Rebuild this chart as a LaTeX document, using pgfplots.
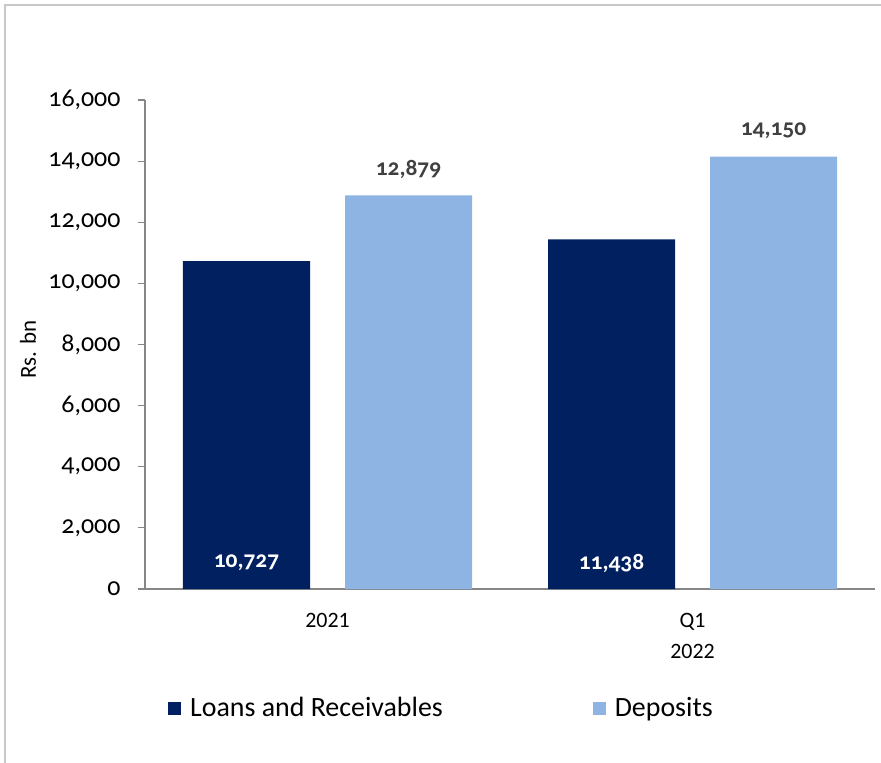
\documentclass[border=0pt]{standalone}
\usepackage{fontspec}
\setmainfont{Carlito}
\newfontfamily\oldnum{Carlito}[Numbers=OldStyle]
\usepackage{pgfplots}
\pgfplotsset{compat=1.18}
\definecolor{loans}{HTML}{002060}
\definecolor{deps}{HTML}{8EB4E3}
\definecolor{axgray}{HTML}{868686}
\definecolor{framegray}{HTML}{C8C8C8}
\definecolor{lblgray}{HTML}{404040}
\begin{document}
\begin{tikzpicture}[x=1bp,y=1bp]
\begin{axis}[
  at={(0,0)}, anchor=south west,
  scale only axis,
  width=730bp, height=489bp,
  xmin=-0.5, xmax=1.5,
  ymin=0, ymax=16000,
  ytick={0,2000,...,16000},
  scaled y ticks=false,
  xtick={0,1},
  xticklabels={2021, Q1\\2022},
  xticklabel style={align=center, font=\fontsize{22}{31}\selectfont, anchor=north, yshift=-14bp},
  x tick style={draw=none},
  axis x line*=bottom,
  axis y line*=left,
  axis line style={axgray, line width=1.2pt},
  y tick style={axgray, line width=1.2pt},
  tick align=outside,
  major tick length=7bp,
  /pgf/number format/assume math mode=true,
  /pgf/number format/1000 sep={,},
  yticklabel style={font=\oldnum\fontsize{26}{28}\selectfont, xshift=-14bp},
  ylabel={Rs. bn},
  every axis y label/.style={at={(axis description cs:-0.1603,0.489)}, rotate=90, anchor=center, font=\fontsize{23}{26}\selectfont},
  ybar=35bp,
  bar width=127bp,
  legend columns=2,
  legend style={at={(axis description cs:0.0315,-0.2434)}, anchor=west, draw=none, fill=none, inner sep=0pt,
    font=\fontsize{28}{32}\selectfont,
    /tikz/every even column/.append style={column sep=148bp},
    /tikz/every odd column/.append style={column sep=7bp}},
  legend image code/.code={\fill[#1] (0bp,-6.5bp) rectangle (13bp,6.5bp);},
  legend cell align=left,
]
\addplot[fill=loans, draw=none] coordinates {(0,10727) (1,11438)};
\addlegendentry{Loans and Receivables}
\addplot[fill=deps, draw=none,
  nodes near coords={\pgfmathprintnumber{\pgfplotspointmeta}},
  every node near coord/.append style={font=\oldnum\bfseries\fontsize{23.5}{26}\selectfont, text=lblgray, anchor=center, yshift=26bp}]
  coordinates {(0,12879) (1,14150)};
\addlegendentry{Deposits}
\node[text=white, font=\oldnum\bfseries\fontsize{23.5}{26}\selectfont] at ([xshift=-81bp, yshift=26bp]axis cs:0,0) {10,727};
\node[text=white, font=\oldnum\bfseries\fontsize{23.5}{26}\selectfont] at ([xshift=-81bp, yshift=26bp]axis cs:1,0) {11,438};
\end{axis}
\draw[framegray, line width=1.5bp] (-140,-180) -- (-140,584) -- (745,584);
\pgfresetboundingbox
\useasboundingbox (-145,-174) rectangle (736,589);
\end{tikzpicture}
\end{document}
